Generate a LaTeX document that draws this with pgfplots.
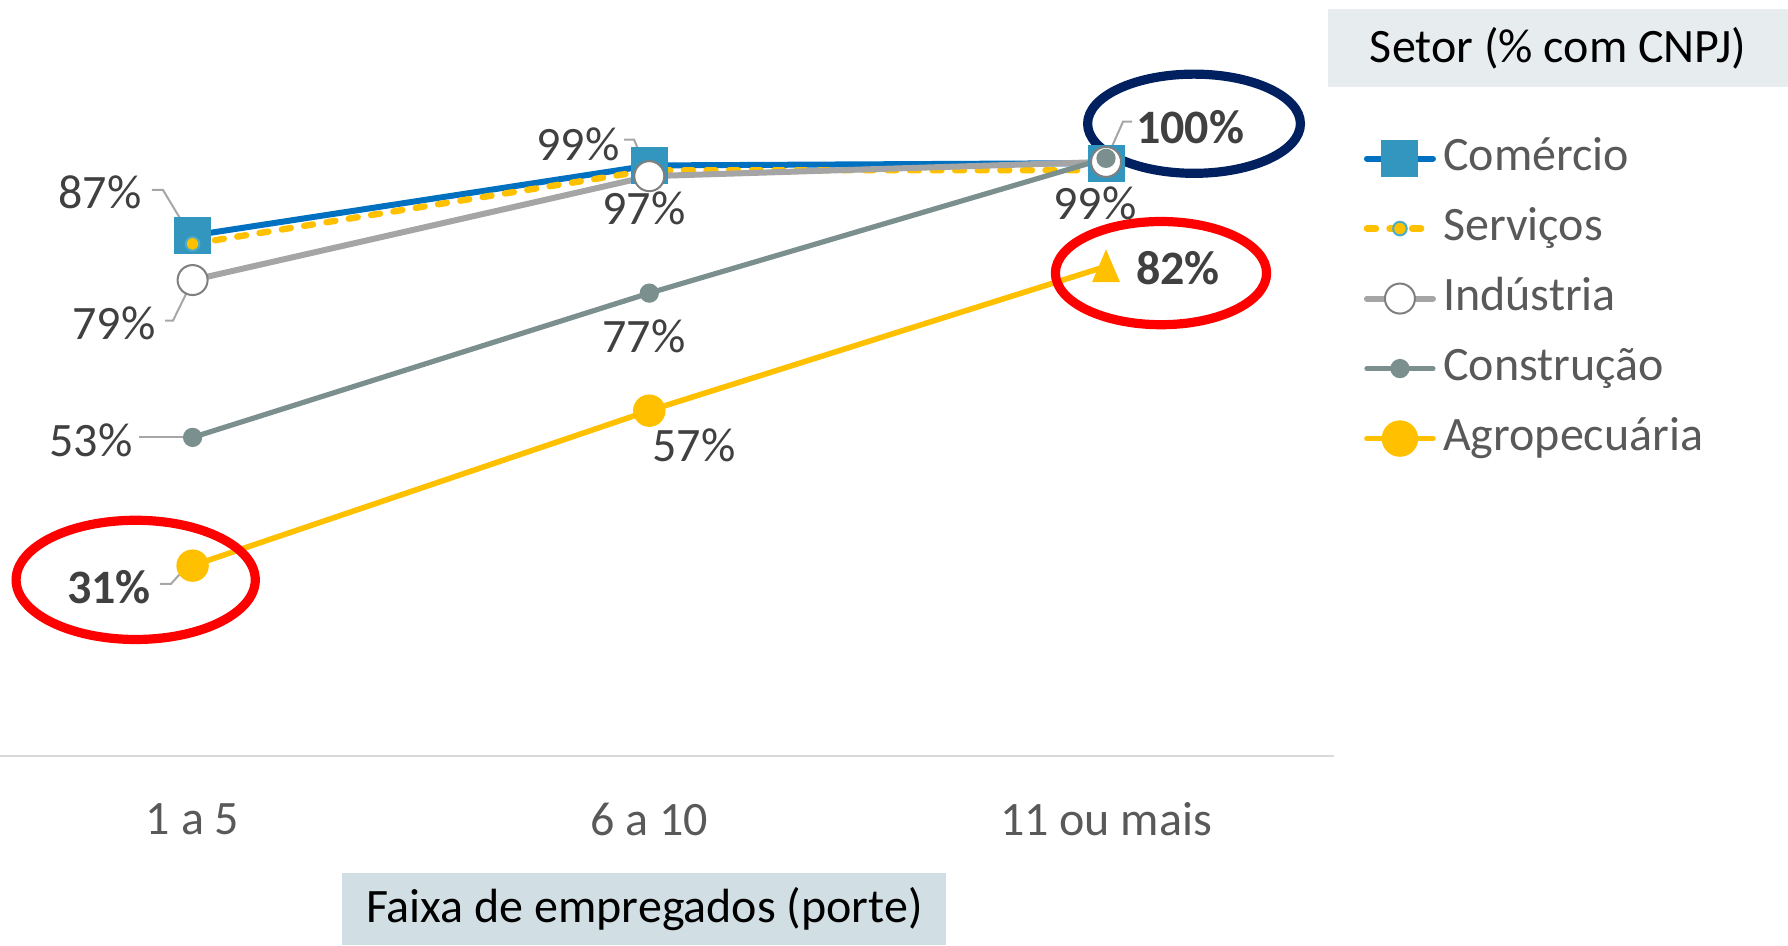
\documentclass[border=0pt]{standalone}
\usepackage{fontspec}
\setmainfont{Carlito}
\usepackage{pgfplots}
\pgfplotsset{compat=1.18}
\definecolor{comblue}{RGB}{0,112,192}
\definecolor{commark}{RGB}{51,150,190}
\definecolor{gold}{RGB}{255,192,0}
\definecolor{indgray}{RGB}{165,165,165}
\definecolor{indedge}{RGB}{127,127,127}
\definecolor{congray}{RGB}{124,143,143}
\definecolor{navy}{RGB}{0,32,96}
\definecolor{lbl}{RGB}{64,64,64}
\definecolor{leg}{RGB}{89,89,89}
\definecolor{lead}{RGB}{166,166,166}
\definecolor{boxA}{RGB}{209,222,227}
\definecolor{boxB}{RGB}{231,237,238}
\definecolor{axgray}{RGB}{217,217,217}
\definecolor{servedge}{RGB}{75,172,198}
\newcommand\f{\fontsize{12}{14.4}\selectfont}
\begin{document}
\begin{tikzpicture}
\path[use as bounding box] (0,0) rectangle (447pt,236.25pt);
\begin{axis}[
  at={(0pt,47.25pt)}, anchor=south west,
  width=333.5pt, height=189pt, scale only axis,
  xmin=-0.4217, xmax=2.4992, ymin=-0.667, ymax=126.67,
  clip=false,
  axis x line*=bottom, axis y line=none,
  x axis line style={axgray, line width=0.6pt, -},
  xtick={0,1,2}, xticklabels={1 a 5, 6 a 10, 11 ou mais},
  major tick length=0pt,
  xticklabel style={font=\f, text=leg, anchor=center, yshift=-15.75pt},
  legend style={at={(rel axis cs:1.0223,0.822)}, anchor=north west, draw=none, fill=none,
    inner sep=0pt, outer sep=0pt, font=\f, text=leg, row sep=5.5pt,
    nodes={inner sep=0pt, text height=9pt, text depth=3pt},
    /tikz/every odd column/.style={column sep=1.75pt}},
  legend cell align=left,
  legend image code/.code={\draw[#1, line cap=round, mark repeat=2, mark phase=2] plot coordinates {(0pt,0pt) (8.25pt,0pt) (16.5pt,0pt)};},
]
\addplot[comblue, line width=1.5pt, mark=square*, mark size=3.875pt, mark options={fill=commark, draw=commark, solid}] coordinates {(0,87) (1,98.8) (2,99.2)};
\addlegendentry{Comércio}
\addplot[gold, line width=1.6pt, line cap=round, dash pattern=on 2.25pt off 3.4pt, mark=*, mark size=1.7pt, mark options={fill=gold, draw=servedge, line width=0.5pt, solid}] coordinates {(0,85.6) (1,98) (2,98)};
\addlegendentry{Serviços}
\addplot[indgray, line width=1.5pt, mark=*, mark size=3.75pt, mark options={fill=white, draw=indedge, line width=0.5pt}] coordinates {(0,79.5) (1,97) (2,99.4)};
\addlegendentry{Indústria}
\addplot[congray, line width=1.3pt, mark=*, mark size=1.75pt, mark options={fill=congray, draw=congray}] coordinates {(0,53) (1,77.3) (2,100)};
\addlegendentry{Construção}
\addplot[forget plot, gold, line width=1.4pt] coordinates {(0,31.4) (1,57.5) (2,81.8)};
\addplot[forget plot, only marks, mark=*, mark size=3.85pt, mark options={fill=gold, draw=gold}] coordinates {(0,31.4) (1,57.5)};
\addplot[forget plot, only marks, mark=triangle*, mark size=5pt, mark options={fill=gold, draw=gold, xscale=0.74, yshift=-1.25pt}] coordinates {(2,81.8)};
\addlegendimage{gold, line width=1.4pt, mark=*, mark size=3.85pt, mark options={fill=gold, draw=gold}}
\addlegendentry{Agropecuária}

% annotation ellipses
\draw[navy, line width=2.3pt] (axis cs:2.1927,105.83) ellipse [x radius=26.6pt, y radius=12.4pt];
\draw[red, line width=2.3pt] (axis cs:2.1204,80.67) ellipse [x radius=26.4pt, y radius=12.9pt];
\draw[red, line width=2.3pt] (axis cs:-0.1246,29.0) ellipse [x radius=29.9pt, y radius=14.9pt];

% leader lines
\draw[lead, line width=0.5pt] (axis cs:-0.0889,94.67) -- (axis cs:-0.0648,94.67) -- (axis cs:-0.0101,87.67);
\draw[lead, line width=0.5pt] (axis cs:-0.0604,72.67) -- (axis cs:-0.0429,72.67) -- (axis cs:-0.0079,78.17);
\draw[lead, line width=0.5pt] (axis cs:-0.1174,53) -- (axis cs:-0.0079,53);
\draw[lead, line width=0.5pt] (axis cs:-0.0714,28.33) -- (axis cs:-0.0473,28.33) -- (axis cs:-0.0079,31.67);
\draw[lead, line width=0.5pt] (axis cs:0.9446,103.17) -- (axis cs:0.9665,103.17) -- (axis cs:0.9883,99.17);
\draw[lead, line width=0.5pt] (axis cs:2.0569,106.17) -- (axis cs:2.0372,106.17) -- (axis cs:2.0131,102);

% data labels
\node[font=\f, text=lbl] at (axis cs:-0.2027,94.33) {87\%};
\node[font=\f, text=lbl] at (axis cs:-0.1721,72.17) {79\%};
\node[font=\f, text=lbl] at (axis cs:-0.2225,52.5) {53\%};
\node[font=\f\bfseries, text=lbl] at (axis cs:-0.1831,27.83) {31\%};
\node[font=\f, text=lbl] at (axis cs:0.8439,102.33) {99\%};
\node[font=\f, text=lbl] at (axis cs:0.9883,91.5) {97\%};
\node[font=\f, text=lbl] at (axis cs:0.9883,70) {77\%};
\node[font=\f, text=lbl] at (axis cs:1.0979,51.67) {57\%};
\node[font=\f\bfseries, text=lbl] at (axis cs:2.1839,105.33) {100\%};
\node[font=\f, text=lbl] at (axis cs:1.9758,92.5) {99\%};
\node[font=\f\bfseries, text=lbl] at (axis cs:2.1577,81.5) {82\%};

% boxes
\node[fill=boxA, minimum width=151pt, minimum height=18pt, inner sep=0pt, font=\f, text=black] at (rel axis cs:0.483,-0.2024) {Faixa de empregados (porte)};
\node[fill=boxB, minimum width=115pt, minimum height=19.5pt, inner sep=0pt, font=\f, text=black] at (rel axis cs:1.168,0.9365) {Setor (\% com CNPJ)};
\end{axis}
\end{tikzpicture}
\end{document}
